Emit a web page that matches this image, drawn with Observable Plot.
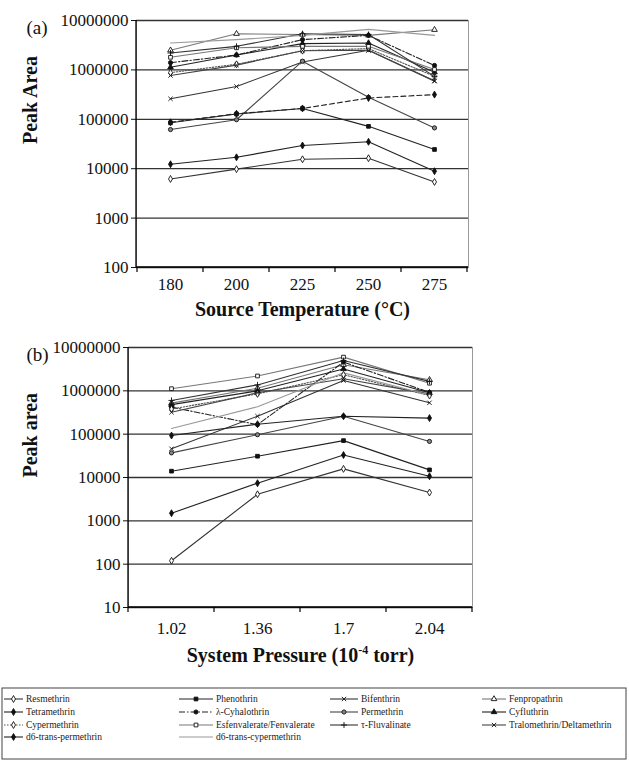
<!DOCTYPE html>
<html><head><meta charset="utf-8">
<script src="https://cdn.jsdelivr.net/npm/d3@7"></script>
<script src="https://cdn.jsdelivr.net/npm/@observablehq/plot@0.6"></script>
<style>
body{margin:0;background:#fff;}
#root{position:relative;width:629px;height:761px;font-family:"Liberation Serif","Times New Roman",serif;overflow:hidden;}
#root > svg{position:absolute;left:0;overflow:visible;}
</style></head><body><div id="root"></div>
<script>
// ---------- data ----------
const temperatures = ["180", "200", "225", "250", "275"];
const pressures = ["1.02", "1.36", "1.7", "2.04"];
const yTicksA = [100, 1000, 10000, 100000, 1000000, 10000000];
const yTicksB = [10, 100, 1000, 10000, 100000, 1000000, 10000000];
const seriesNames = [
  "Resmethrin", "Phenothrin", "Bifenthrin", "Fenpropathrin",
  "Tetramethrin", "λ-Cyhalothrin", "Permethrin", "Cyfluthrin",
  "Cypermethrin", "Esfenvalerate/Fenvalerate", "τ-Fluvalinate", "Tralomethrin/Deltamethrin",
  "d6-trans-permethrin", "d6-trans-cypermethrin"
];
// (a) peak area vs source temperature
const peakAreaA = [
  [6200, 9800, 15500, 16300, 5400],
  [85000, 128000, 166000, 72000, 24500],
  [260000, 460000, 1450000, 2500000, 590000],
  [2500000, 5400000, 5200000, 5000000, 6500000],
  [12300, 17000, 29500, 35000, 8900],
  [1400000, 2000000, 4100000, 5000000, 1230000],
  [62000, 98000, 1500000, 280000, 67000],
  [1130000, 2000000, 3400000, 3500000, 900000],
  [880000, 1300000, 2450000, 2700000, 740000],
  [1800000, 2800000, 3000000, 3000000, 1020000],
  [2200000, 3000000, 5400000, 5200000, 740000],
  [770000, 1250000, 2450000, 2500000, 600000],
  [87000, 130000, 166000, 270000, 316000],
  [3500000, 4100000, 5000000, 6600000, 5000000]
];
// (b) peak area vs system pressure
const peakAreaB = [
  [120, 4100, 15800, 4500],
  [14000, 31000, 71000, 15000],
  [46000, 260000, 1730000, 530000],
  [520000, 1150000, 4000000, 1800000],
  [1500, 7400, 33000, 10700],
  [420000, 166000, 4600000, 920000],
  [37000, 97000, 260000, 68000],
  [480000, 1000000, 3200000, 900000],
  [380000, 850000, 2350000, 780000],
  [1120000, 2200000, 6000000, 1500000],
  [600000, 1370000, 5000000, 1650000],
  [320000, 900000, 1900000, 850000],
  [93000, 170000, 260000, 235000],
  [135000, 430000, 2600000, 800000]
];

// ---------- styles ----------
const symbols = ["diamond","square","times","triangle","diamond","circle","circle","triangle","diamond","square","plus","times","diamond",null];
const fills = ["white","#111","none","white","#111","#111","#888","#111","white","white","none","none","#111",null];
const lineColors = ["#333","#222","#333","#777","#222","#222","#444","#222","#555","#777","#333","#444","#222","#999"];
const dashes = [null,null,null,null,null,"6,2,1.5,2",null,null,"1.5,1.5",null,null,null,null,null];
const dashOverrideA = {"d6-trans-permethrin": "5,3"};
const FONT = "Liberation Serif, Times New Roman, serif";

function rows(cats, values) {
  return seriesNames.flatMap((s, i) => cats.map((c, j) => ({series: s, x: c, y: values[i][j]})));
}

function excelAxes(cats) {
  return (index, scales, values, dims) => {
    const g = d3.create("svg:g").attr("stroke", "#000");
    const x0 = dims.marginLeft, x1 = dims.width - dims.marginRight;
    const yt = dims.marginTop, yb = dims.height - dims.marginBottom;
    const step = scales.x(cats[1]) - scales.x(cats[0]);
    const bounds = cats.map(c => scales.x(c) - step / 2).concat([scales.x(cats[cats.length - 1]) + step / 2]);
    g.append("line").attr("x1", x0).attr("x2", x0).attr("y1", yt).attr("y2", yb).attr("stroke-width", 1.3);
    g.append("line").attr("x1", x0).attr("x2", x1).attr("y1", yb).attr("y2", yb).attr("stroke-width", 1.3);
    g.selectAll(null).data(bounds).join("line")
      .attr("x1", d => d).attr("x2", d => d).attr("y1", yb).attr("y2", yb + 5).attr("stroke-width", 1.2);
    return g.node();
  };
}

function panel(o) {
  const data = rows(o.cats, o.values);
  const marks = [
    Plot.frame({stroke: "#999"}),
    Plot.ruleY(o.yTicks, {stroke: "#333", strokeWidth: 1.3}),
    excelAxes(o.cats)
  ];
  seriesNames.forEach((s, i) => {
    const d = data.filter(r => r.series === s);
    marks.push(Plot.line(d, {x: "x", y: "y", stroke: lineColors[i], strokeWidth: 1.1,
      strokeDasharray: (o.dashOverride && o.dashOverride[s]) || dashes[i] || undefined}));
  });
  seriesNames.forEach((s, i) => {
    if (!symbols[i]) return;
    const d = data.filter(r => r.series === s);
    marks.push(Plot.dot(d, {x: "x", y: "y", symbol: symbols[i], r: 2.1, fill: fills[i], stroke: "#111", strokeWidth: 0.9}));
  });
  marks.push(Plot.text([o.tag], {text: d => d, frameAnchor: "top-left", dx: -(o.marginLeft - 26), dy: 0, fontSize: 19}));
  marks.push(Plot.text([o.yTitle], {text: d => d, frameAnchor: "left", dx: -(o.marginLeft - 30), rotate: -90, fontSize: 20, fontWeight: "bold"}));
  marks.push(Plot.text([o.xTitle], {text: d => d, frameAnchor: "bottom", dy: o.titleDy, fontSize: 20, fontWeight: "bold"}));
  return Plot.plot({
    width: 629,
    height: o.height,
    marginLeft: o.marginLeft, marginRight: o.marginRight, marginTop: o.marginTop, marginBottom: o.marginBottom,
    style: {fontFamily: FONT, fontSize: "17px", color: "#111", background: "white", overflow: "visible"},
    x: {type: "point", domain: o.cats, padding: 0.5, tickSize: 0, tickPadding: o.xPad, label: null},
    y: {type: "log", domain: o.yDomain, ticks: o.yTicks, tickFormat: d3.format("d"), tickSize: 5, tickPadding: 3, label: null},
    marks
  });
}

const root = document.getElementById("root");

const svgA = panel({
  cats: temperatures, values: peakAreaA, yDomain: [100, 10000000], yTicks: yTicksA,
  height: 325, marginLeft: 136, marginRight: 161, marginTop: 20, marginBottom: 58, xPad: 10,
  tag: "(a)", yTitle: "Peak Area", xTitle: "Source Temperature (°C)", titleDy: 48, dashOverride: dashOverrideA
});
svgA.style.top = "0px";
root.appendChild(svgA);

const svgB = panel({
  cats: pressures, values: peakAreaB, yDomain: [10, 10000000], yTicks: yTicksB,
  height: 350, marginLeft: 128, marginRight: 157, marginTop: 22, marginBottom: 68, xPad: 14,
  tag: "(b)", yTitle: "Peak area", xTitle: "System Pressure (10⁻⁴ torr)", titleDy: 54, dashOverride: {}
});
svgB.style.top = "325px";
root.appendChild(svgB);

// proper superscript for the pressure unit
svgB.querySelectorAll("text").forEach(t => {
  if (t.textContent === "System Pressure (10⁻⁴ torr)") {
    const ns = "http://www.w3.org/2000/svg";
    t.textContent = "";
    const a = document.createElementNS(ns, "tspan"); a.textContent = "System Pressure (10";
    const b = document.createElementNS(ns, "tspan"); b.textContent = "-4"; b.setAttribute("font-size", "12"); b.setAttribute("dy", "-8");
    const c = document.createElementNS(ns, "tspan"); c.textContent = " torr)"; c.setAttribute("dy", "8");
    t.append(a, b, c);
  }
});

// ---------- legend ----------
const symMap = {diamond: d3.symbolDiamond, square: d3.symbolSquare, times: d3.symbolTimes, triangle: d3.symbolTriangle, circle: d3.symbolCircle, plus: d3.symbolPlus};
const colX = [4, 179, 330, 482];
const sampleW = [19, 34, 28, 24];
const rowY = [24, 37, 50, 62];
const leg = d3.create("svg").attr("width", 629).attr("height", 86).style("top", "675px");
leg.append("rect").attr("x", 2).attr("y", 13).attr("width", 624).attr("height", 71)
  .attr("fill", "none").attr("stroke", "#444").attr("stroke-width", 1);
seriesNames.forEach((s, i) => {
  const c = i % 4, r = Math.floor(i / 4);
  const x = colX[c], y = rowY[r], w = sampleW[c];
  const g = leg.append("g");
  g.append("line").attr("x1", x).attr("x2", x + w).attr("y1", y).attr("y2", y)
    .attr("stroke", lineColors[i]).attr("stroke-width", 1.1).attr("stroke-dasharray", dashes[i]);
  if (symbols[i]) {
    g.append("path").attr("transform", `translate(${x + w / 2},${y})`)
      .attr("d", d3.symbol(symMap[symbols[i]], 2.1 * 2.1 * Math.PI)())
      .attr("fill", fills[i]).attr("stroke", "#111").attr("stroke-width", 0.9);
  }
  g.append("text").attr("x", x + w + 3).attr("y", y).attr("dy", "0.32em")
    .attr("font-family", FONT).attr("font-size", 9.5).attr("fill", "#222").text(s);
});
root.appendChild(leg.node());
</script>
</body></html>
